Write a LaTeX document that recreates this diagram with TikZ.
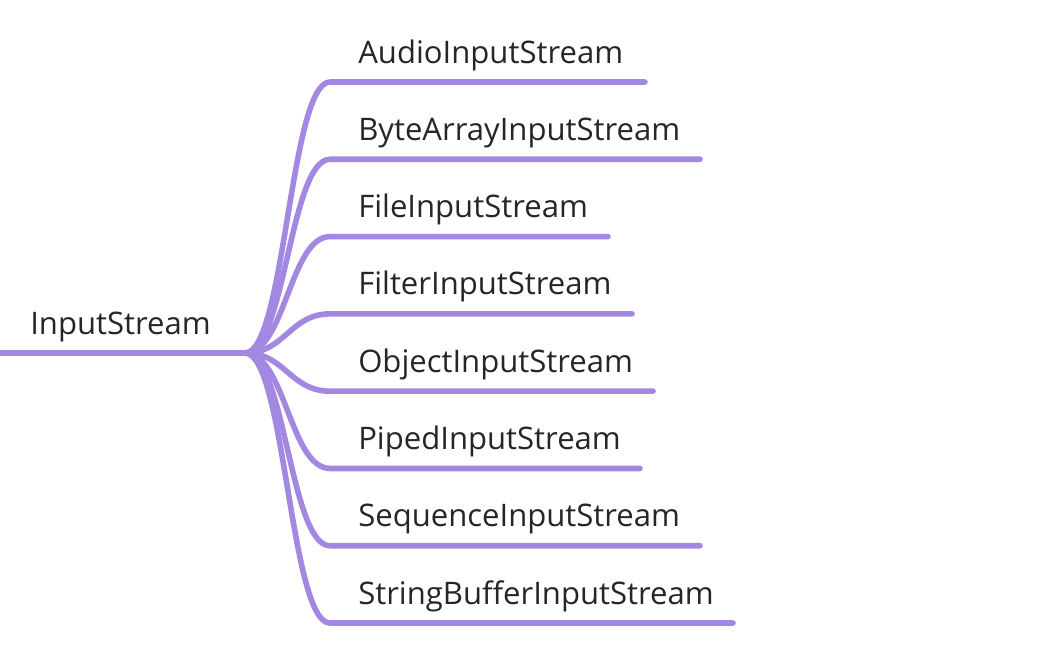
\documentclass[tikz,border=0pt]{standalone}
\usepackage{fontspec}
\setmainfont{Open Sans}
\definecolor{branch}{RGB}{162,136,224}
\definecolor{txt}{RGB}{38,38,38}
\tikzset{
  lbl/.style={anchor=base west, inner sep=0pt, text=txt, font=\fontsize{23.3pt}{28pt}\selectfont},
  edge/.style={draw=branch, line width=4.2pt, line cap=round},
}
\begin{document}
\begin{tikzpicture}[x=0.75pt,y=-0.75pt]
\useasboundingbox (0,0) rectangle (1046,658);
\coordinate (rs) at (-5,353);
\coordinate (hub) at (245,353);
\node[lbl] (root) at (30,334) {InputStream};
\draw[edge] (rs) -- (hub);
\foreach \i/\name/\len in {0/AudioInputStream/645,1/ByteArrayInputStream/700,2/FileInputStream/608,3/FilterInputStream/632,4/ObjectInputStream/653,5/PipedInputStream/640,6/SequenceInputStream/700,7/StringBufferInputStream/733}{
  \pgfmathsetmacro{\yy}{82+77.29*\i}
  \coordinate (s\i) at (330,\yy);
  \coordinate (e\i) at (\len,\yy);
  \node[lbl] (c\i) at (358,\yy-19) {\name};
  \draw[edge] (hub) .. controls ([xshift=30pt]hub |- hub) and ([xshift=-30pt]s\i) .. (s\i) -- (e\i);
}
\end{tikzpicture}
\end{document}
